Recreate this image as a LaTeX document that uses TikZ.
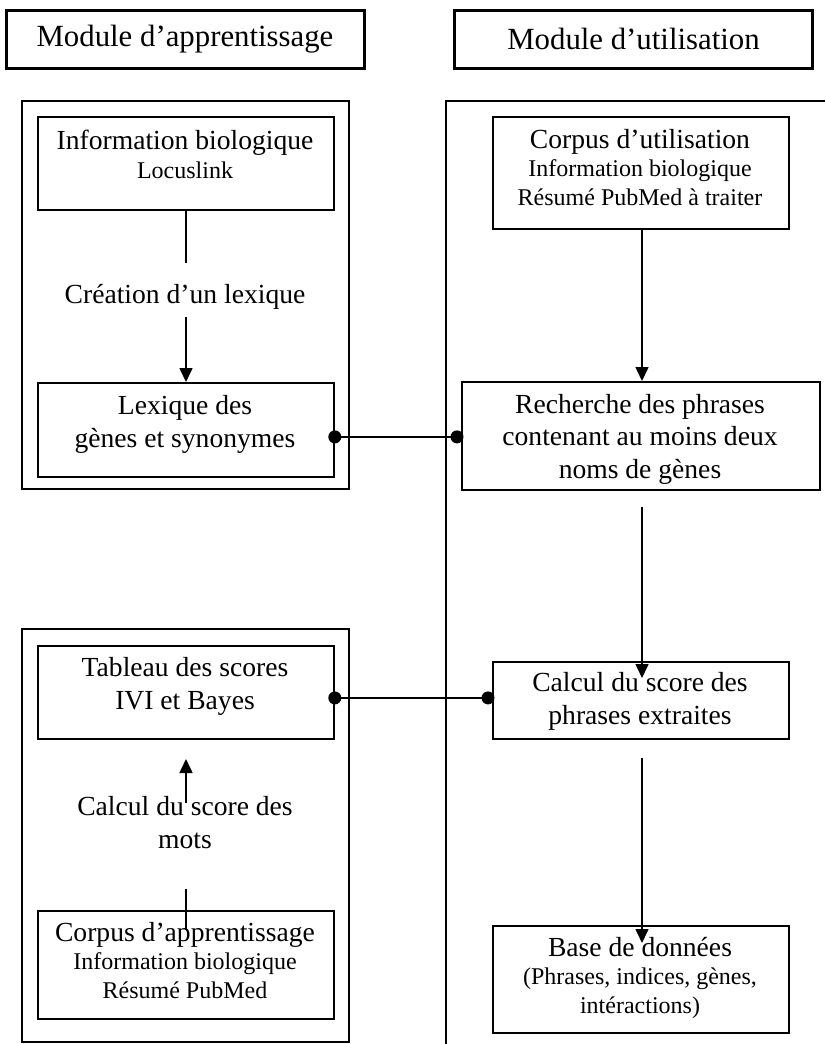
\documentclass[tikz,border=0pt]{standalone}
\usepackage{fontspec}
\setmainfont{Liberation Serif}
\usetikzlibrary{arrows.meta}
\newcommand\subf{\fontsize{24}{28.3}\selectfont}
\begin{document}
\begin{tikzpicture}[x=1pt,y=-1pt,
  hdr/.style={draw, line width=3pt, minimum width=358pt, minimum height=58pt, inner sep=0pt, font=\fontsize{30.8}{36}\selectfont},
  box/.style={draw, line width=1.8pt, inner sep=0pt, anchor=north west},
  txt/.style={align=center, anchor=base, inner sep=0pt, font=\fontsize{27.6}{32.3}\selectfont},
  mix/.style={align=center, anchor=base, inner sep=0pt, font=\fontsize{27.6}{28.3}\selectfont},
  conn/.style={line width=1.6pt},
  arr/.style={conn, -{Triangle[length=14pt,width=13pt]}},
  frame/.style={line width=1.9pt},
  dot/.style={fill=black},
]
\useasboundingbox (0,0) rectangle (825,1044);

% headers
\node[hdr] (h1) at (185,39) {Module d’apprentissage};
\node[hdr] (h2) at (633.5,39) {Module d’utilisation};

% module frames
\draw[frame] (22,101) rectangle (349,489);
\draw[frame] (22,629) rectangle (349,1042);
\draw[frame] (446,1044) -- (446,101) -- (825,101);

% boxes
\node[box, minimum width=296pt, minimum height=93pt]  (info) at (37,116) {};
\node[box, minimum width=296pt, minimum height=94pt]  (lex)  at (37,382) {};
\node[box, minimum width=296pt, minimum height=93pt]  (tab)  at (37,645) {};
\node[box, minimum width=296pt, minimum height=108pt] (ca)   at (37,910) {};
\node[box, minimum width=296pt, minimum height=112pt] (cu)   at (492,116) {};
\node[box, minimum width=358pt, minimum height=108pt] (rech) at (461,381) {};
\node[box, minimum width=296pt, minimum height=77pt]  (calc) at (492,661) {};
\node[box, minimum width=296pt, minimum height=107pt] (base) at (492,925) {};

% texts (anchor base = baseline of the last line)
\node[mix] (tinfo) at (185,178) {Information biologique\\{\subf Locuslink}};
\node[txt] (tcrea) at (185,303) {Création d’un lexique};
\node[txt] (tlex)  at (185,447) {Lexique des\\gènes et synonymes};
\node[txt] (ttab)  at (185,709) {Tableau des scores\\IVI et Bayes};
\node[txt] (tcs)   at (185,848) {Calcul du score des\\mots};
\node[mix] (tca)   at (185,998) {Corpus d’apprentissage\\{\subf Information biologique}\\{\subf Résumé PubMed}};
\node[mix] (tcu)   at (640,205) {Corpus d’utilisation\\{\subf Information biologique}\\{\subf Résumé PubMed à traiter}};
\node[txt] (trech) at (640,478) {Recherche des phrases\\contenant au moins deux\\noms de gènes};
\node[txt] (tcalc) at (640,724) {Calcul du score des\\phrases extraites};
\node[mix] (tbase) at (640,1013) {Base de données\\{\subf (Phrases, indices, gènes,}\\{\subf intéractions)}};

% free ends of connectors
\coordinate (a1) at (186,263);
\coordinate (a2) at (186,317);
\coordinate (b1) at (186,803);
\coordinate (b2) at (186,759);
\coordinate (b3) at (186,889);
\coordinate (b4) at (186,930);
\coordinate (c1) at (642,507);
\coordinate (c2) at (642,678);
\coordinate (c3) at (642,758);
\coordinate (c4) at (642,943);

% left connectors
\draw[conn] (info.south -| a1) -- (a1);
\draw[arr] (a2) -- (lex.north -| a2);
\draw[arr] (b1) -- (b2);
\draw[conn] (b3) -- (b4);

% right connectors
\draw[arr] (cu.south -| c1) -- (rech.north -| c1);
\draw[arr] (c1) -- (c2);
\draw[arr] (c3) -- (c4);

% dotted links
\coordinate (d1) at ([yshift=-7pt]lex.east);
\coordinate (d2) at ([xshift=-4pt]d1 -| rech.west);
\draw[conn] (d1) -- (d2);
\fill[dot] (d1) circle (6.5pt);
\fill[dot] (d2) circle (6.5pt);
\coordinate (e1) at ([yshift=-5.5pt]tab.east);
\coordinate (e2) at ([xshift=-4pt]e1 -| calc.west);
\draw[conn] (e1) -- (e2);
\fill[dot] (e1) circle (6.5pt);
\fill[dot] (e2) circle (6.5pt);
\end{tikzpicture}
\end{document}
